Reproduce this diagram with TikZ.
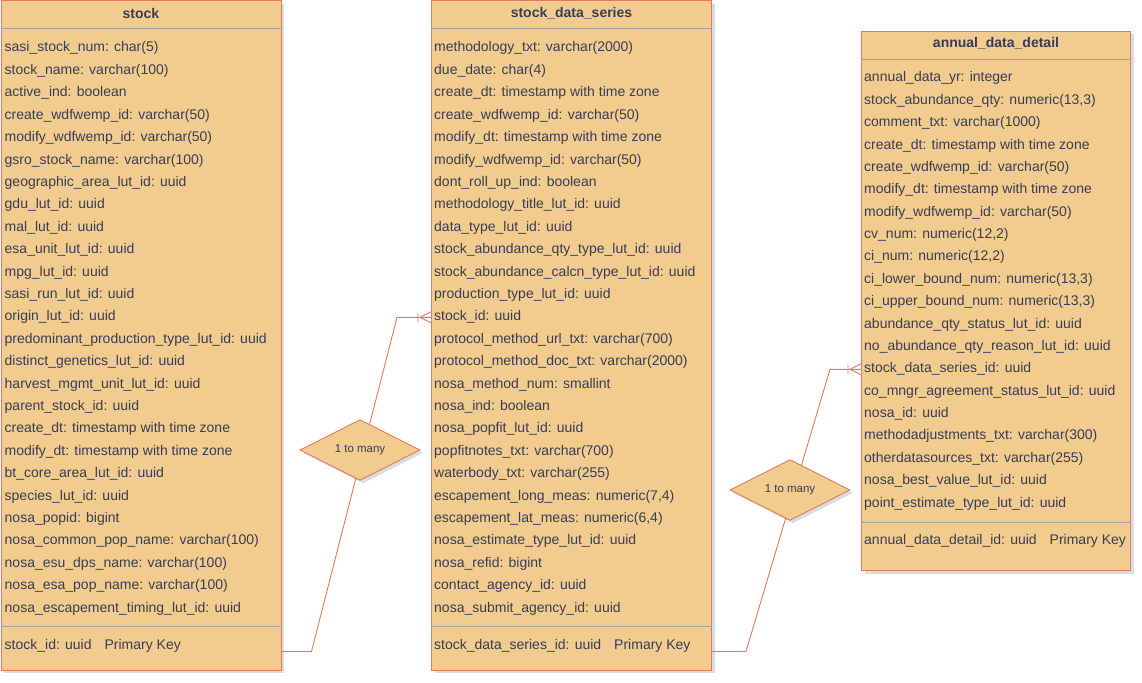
\documentclass[tikz,border=0pt]{standalone}
\usepackage{fontspec}
\setmainfont{Liberation Sans}
\usepackage{xcolor}
\usepackage{tikz}
\usetikzlibrary{calc,shapes.geometric,shadows}
\definecolor{boxfill}{HTML}{F2CC8F}
\definecolor{boxedge}{HTML}{E07A5F}
\definecolor{ink}{HTML}{393C56}
\definecolor{rule}{HTML}{A3A3A3}
\tikzset{
  table/.style={draw=boxedge, fill=boxfill, line width=1pt, anchor=north west, inner sep=0pt,
    drop shadow={shadow xshift=3pt, shadow yshift=-3pt, opacity=0.18, fill=ink}},
  head/.style={text=ink, font=\fontsize{14}{16}\selectfont\bfseries},
  field/.style={text=ink, font=\fontsize{14}{16}\selectfont, anchor=west, inner sep=0pt,
    text height=10pt, text depth=3pt},
  sep/.style={draw=rule, line width=0.8pt},
  conn/.style={draw=boxedge, line width=0.9pt},
  rel/.style={diamond, draw=boxedge, fill=boxfill, line width=0.9pt, inner sep=0pt,
    minimum width=120pt, minimum height=60pt, text=ink, font=\fontsize{11.5}{13}\selectfont,
    drop shadow={shadow xshift=3pt, shadow yshift=-3pt, opacity=0.18, fill=ink}},
  crow/.pic={\draw[conn] (-13,-4.5) -- (-13,4.5) (-11,0) -- (0,-5.5) (-11,0) -- (0,5.5);},
}

\begin{document}
\begin{tikzpicture}[x=1pt, y=-1pt]
  \useasboundingbox (0,0) rectangle (1142,682);

  % tables
  \node[table, minimum width=280pt, minimum height=669pt] (stock) at (0.5,0.5) {};
  \node[table, minimum width=280pt, minimum height=669pt] (sds) at (431,0.5) {};
  \node[table, minimum width=269pt, minimum height=539pt] (add) at (861,31) {};

  \node[head] (stock-h) at ($(stock.north)+(0,12.5)$) {stock};
  \node[head] (sds-h) at ($(sds.north)+(0,12.5)$) {stock\_data\_series};
  \node[head] (add-h) at ($(add.north)+(0,12.5)$) {annual\_data\_detail};

  \draw[sep] ($(stock.north west)+(0,28)$) -- ($(stock.north east)+(0,28)$);
  \draw[sep] ($(sds.north west)+(0,28)$) -- ($(sds.north east)+(0,28)$);
  \draw[sep] ($(add.north west)+(0,28)$) -- ($(add.north east)+(0,28)$);

  \foreach \txt [count=\i] in {
    sasi\_stock\_num: char(5),
    stock\_name: varchar(100),
    active\_ind: boolean,
    create\_wdfwemp\_id: varchar(50),
    modify\_wdfwemp\_id: varchar(50),
    gsro\_stock\_name: varchar(100),
    geographic\_area\_lut\_id: uuid,
    gdu\_lut\_id: uuid,
    mal\_lut\_id: uuid,
    esa\_unit\_lut\_id: uuid,
    mpg\_lut\_id: uuid,
    sasi\_run\_lut\_id: uuid,
    origin\_lut\_id: uuid,
    predominant\_production\_type\_lut\_id: uuid,
    distinct\_genetics\_lut\_id: uuid,
    harvest\_mgmt\_unit\_lut\_id: uuid,
    parent\_stock\_id: uuid,
    create\_dt: timestamp with time zone,
    modify\_dt: timestamp with time zone,
    bt\_core\_area\_lut\_id: uuid,
    species\_lut\_id: uuid,
    nosa\_popid: bigint,
    nosa\_common\_pop\_name: varchar(100),
    nosa\_esu\_dps\_name: varchar(100),
    nosa\_esa\_pop\_name: varchar(100),
    nosa\_escapement\_timing\_lut\_id: uuid}
    \node[field] (stock-\i) at ($(stock.north west)+(4,{48+(\i-1)*22.4})$) {\txt};

  \foreach \txt [count=\i] in {
    methodology\_txt: varchar(2000),
    due\_date: char(4),
    create\_dt: timestamp with time zone,
    create\_wdfwemp\_id: varchar(50),
    modify\_dt: timestamp with time zone,
    modify\_wdfwemp\_id: varchar(50),
    dont\_roll\_up\_ind: boolean,
    methodology\_title\_lut\_id: uuid,
    data\_type\_lut\_id: uuid,
    stock\_abundance\_qty\_type\_lut\_id: uuid,
    stock\_abundance\_calcn\_type\_lut\_id: uuid,
    production\_type\_lut\_id: uuid,
    stock\_id: uuid,
    protocol\_method\_url\_txt: varchar(700),
    protocol\_method\_doc\_txt: varchar(2000),
    nosa\_method\_num: smallint,
    nosa\_ind: boolean,
    nosa\_popfit\_lut\_id: uuid,
    popfitnotes\_txt: varchar(700),
    waterbody\_txt: varchar(255),
    {escapement\_long\_meas: numeric(7,4)},
    {escapement\_lat\_meas: numeric(6,4)},
    nosa\_estimate\_type\_lut\_id: uuid,
    nosa\_refid: bigint,
    contact\_agency\_id: uuid,
    nosa\_submit\_agency\_id: uuid}
    \node[field] (sds-\i) at ($(sds.north west)+(3,{48+(\i-1)*22.4})$) {\txt};

  \foreach \txt [count=\i] in {
    annual\_data\_yr: integer,
    {stock\_abundance\_qty: numeric(13,3)},
    comment\_txt: varchar(1000),
    create\_dt: timestamp with time zone,
    create\_wdfwemp\_id: varchar(50),
    modify\_dt: timestamp with time zone,
    modify\_wdfwemp\_id: varchar(50),
    {cv\_num: numeric(12,2)},
    {ci\_num: numeric(12,2)},
    {ci\_lower\_bound\_num: numeric(13,3)},
    {ci\_upper\_bound\_num: numeric(13,3)},
    abundance\_qty\_status\_lut\_id: uuid,
    no\_abundance\_qty\_reason\_lut\_id: uuid,
    stock\_data\_series\_id: uuid,
    co\_mngr\_agreement\_status\_lut\_id: uuid,
    nosa\_id: uuid,
    methodadjustments\_txt: varchar(300),
    otherdatasources\_txt: varchar(255),
    nosa\_best\_value\_lut\_id: uuid,
    point\_estimate\_type\_lut\_id: uuid}
    \node[field] (add-\i) at ($(add.north west)+(3,{47.5+(\i-1)*22.37})$) {\txt};

  % primary keys
  \draw[sep] ($(stock.south west)+(0,-44)$) -- ($(stock.south east)+(0,-44)$);
  \draw[sep] ($(sds.south west)+(0,-44)$) -- ($(sds.south east)+(0,-44)$);
  \draw[sep] ($(add.south west)+(0,-49)$) -- ($(add.south east)+(0,-49)$);
  \node[field] (stock-pk) at ($(stock.south west)+(4,-25)$) {stock\_id: uuid\hspace{13pt}Primary Key};
  \node[field] (sds-pk) at ($(sds.south west)+(3,-25)$) {stock\_data\_series\_id: uuid\hspace{13pt}Primary Key};
  \node[field] (add-pk) at ($(add.south west)+(3,-30)$) {annual\_data\_detail\_id: uuid\hspace{13pt}Primary Key};

  % relations
  \draw[conn] ($(stock.south east)+(0,-19)$) -- ++(30,0)
    -- ($(sds-13 -| sds.west)+(-34,0)$) -- (sds-13 -| sds.west);
  \pic at (sds-13 -| sds.west) {crow};
  \draw[conn] ($(sds.south east)+(0,-19)$) -- ++(34,0)
    -- ($(add-14 -| add.west)+(-31,0)$) -- (add-14 -| add.west);
  \pic at (add-14 -| add.west) {crow};

  \node[rel] (rel1) at (360,450) {1 to many};
  \node[rel] (rel2) at (790,490) {1 to many};
\end{tikzpicture}
\end{document}
